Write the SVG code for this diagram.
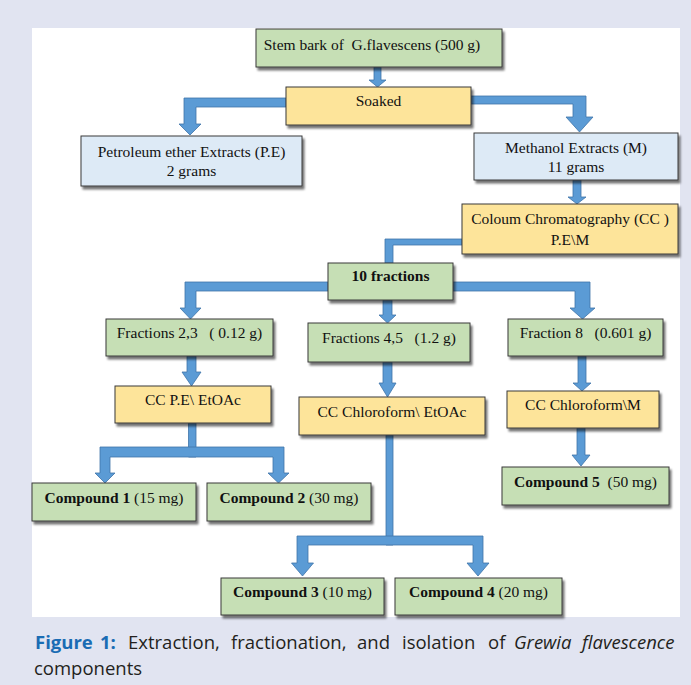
<svg xmlns="http://www.w3.org/2000/svg" width="691" height="685" viewBox="0 0 691 685">
<defs>
<filter id="sh" x="-10%" y="-10%" width="130%" height="140%">
<feGaussianBlur in="SourceAlpha" stdDeviation="1.2"/>
<feOffset dx="2" dy="2.5" result="b"/>
<feComponentTransfer><feFuncA type="linear" slope="0.55"/></feComponentTransfer>
<feMerge><feMergeNode/><feMergeNode in="SourceGraphic"/></feMerge>
</filter>
</defs>
<style>
.g{fill:#C6DFB5;stroke:#3a3a3a;stroke-width:1;filter:url(#sh)}
.y{fill:#FDE49A;stroke:#3a3a3a;stroke-width:1;filter:url(#sh)}
.b{fill:#DDEAF6;stroke:#3a3a3a;stroke-width:1;filter:url(#sh)}
.t{font-family:"Liberation Serif","Times New Roman",serif;font-size:15.5px;fill:#111;text-anchor:middle}
.bd{font-weight:bold}
.a{fill:#5B9BD5;stroke:#3F74A8;stroke-width:0.8}
.cap{font-family:"Open Sans","Noto Sans",sans-serif;font-size:18.5px;fill:#231F20}
</style>
<rect x="0" y="0" width="691" height="685" fill="#E1E4F1"/>
<rect x="32" y="28" width="648" height="589" fill="#FFFFFF"/>

<g id="connectors">
<polygon class="a" points="374,67 381,67 381,80 386,80 377.5,87 369,80 374,80"/>
<polygon class="a" points="286,98 184,98 184,124 179,124 190,135 201,124 196,124 196,107 286,107"/>
<polygon class="a" points="471,96 586,96 586,117 593,117 579.5,132 566,117 573,117 573,104 471,104"/>
<polygon class="a" points="573,180 581,180 581,197 586,197 577,204 568,197 573,197"/>
<polygon class="a" points="462,239 385,239 385,263 393,263 393,245 462,245"/>
<polygon class="a" points="328,282 185,282 185,308 180,308 190.5,319 201,308 196,308 196,291 328,291"/>
<polygon class="a" points="383,300 392,300 392,315 396,315 387.5,323 379,315 383,315"/>
<polygon class="a" points="453,282 590,282 590,308 595,308 582.5,319 570,308 575,308 575,291 453,291"/>
<polygon class="a" points="187,356 196,356 196,372 201,372 191.5,386 182,372 187,372"/>
<polygon class="a" points="383,362 392,362 392,383 396,383 387.5,397 379,383 383,383"/>
<polygon class="a" points="578,356 586,356 586,383 591,383 582,391 573,383 578,383"/>
<polygon class="a" points="188.5,423 196,423 196,457 188.5,457"/>
<polygon class="a" points="284,447 100,447 100,473 95,473 105,483 115,473 110,473 110,457 273,457 273,473 268,473 278.5,483 289,473 284,473"/>
<polygon class="a" points="386,435 393,435 393,545 386,545"/>
<polygon class="a" points="483,536 297,536 297,563 291.5,563 302.5,576 313.5,563 308,563 308,545 473,545 473,563 467,563 478,576 489,563 483,563"/>
<polygon class="a" points="577,428 585,428 585,455 590,455 581,466 572,455 577,455"/>
</g>

<g id="n-stem"><rect class="g" x="256" y="29" width="246" height="38"/><text class="t" x="372" y="50" xml:space="preserve">Stem bark of  G.flavescens (500 g)</text></g>
<g id="n-soaked"><rect class="y" x="286" y="87" width="185" height="38"/><text class="t" x="378.5" y="106">Soaked</text></g>
<g id="n-pe"><rect class="b" x="81" y="136" width="221" height="50"/><text class="t" x="191.5" y="157">Petroleum ether Extracts (P.E)</text><text class="t" x="191.5" y="176">2 grams</text></g>
<g id="n-meth"><rect class="b" x="474" y="133" width="204" height="47"/><text class="t" x="576" y="153">Methanol Extracts (M)</text><text class="t" x="576" y="172">11 grams</text></g>
<g id="n-cc"><rect class="y" x="462" y="204" width="216" height="50"/><text class="t" x="570" y="224">Coloum Chromatography (CC )</text><text class="t" x="570" y="245">P.E\M</text></g>
<g id="n-10fr"><rect class="g" x="328" y="263" width="125" height="37"/><text class="t bd" x="390.5" y="281">10 fractions</text></g>
<g id="n-fr23"><rect class="g" x="106" y="319" width="167" height="37"/><text class="t" x="189.5" y="338" xml:space="preserve">Fractions 2,3   ( 0.12 g)</text></g>
<g id="n-fr45"><rect class="g" x="308" y="323" width="162" height="39"/><text class="t" x="389" y="343" xml:space="preserve">Fractions 4,5   (1.2 g)</text></g>
<g id="n-fr8"><rect class="g" x="508" y="319" width="155" height="37"/><text class="t" x="585.5" y="338" xml:space="preserve">Fraction 8   (0.601 g)</text></g>
<g id="n-ccpe"><rect class="y" x="115" y="386" width="156" height="37"/><text class="t" x="193" y="405">CC P.E\ EtOAc</text></g>
<g id="n-ccce"><rect class="y" x="299" y="397" width="186" height="38"/><text class="t" x="392" y="417">CC Chloroform\ EtOAc</text></g>
<g id="n-cccm"><rect class="y" x="507" y="391" width="152" height="37"/><text class="t" x="583" y="410">CC Chloroform\M</text></g>
<g id="n-c1"><rect class="g" x="32" y="483" width="164" height="38"/><text class="t" x="114" y="503"><tspan class="bd">Compound 1</tspan> (15 mg)</text></g>
<g id="n-c2"><rect class="g" x="207" y="483" width="164" height="38"/><text class="t" x="289" y="503"><tspan class="bd">Compound 2</tspan> (30 mg)</text></g>
<g id="n-c3"><rect class="g" x="221" y="578" width="163" height="37"/><text class="t" x="302.5" y="597"><tspan class="bd">Compound 3</tspan> (10 mg)</text></g>
<g id="n-c4"><rect class="g" x="395" y="578" width="167" height="37"/><text class="t" x="478.5" y="597"><tspan class="bd">Compound 4</tspan> (20 mg)</text></g>
<g id="n-c5"><rect class="g" x="502" y="467" width="167" height="38"/><text class="t" x="585.5" y="487" xml:space="preserve"><tspan class="bd">Compound 5</tspan>  (50 mg)</text></g>

<g id="caption" class="cap">
<text y="649"><tspan x="35" font-weight="bold" fill="#1A6CB4">Figure</tspan><tspan x="100" font-weight="bold" fill="#1A6CB4">1:</tspan><tspan x="128">Extraction,</tspan><tspan x="231">fractionation,</tspan><tspan x="357">and</tspan><tspan x="402">isolation</tspan><tspan x="488">of</tspan><tspan x="514" font-style="italic">Grewia</tspan><tspan x="582" font-style="italic">flavescence</tspan></text>
<text x="34" y="675">components</text>
</g>
</svg>
